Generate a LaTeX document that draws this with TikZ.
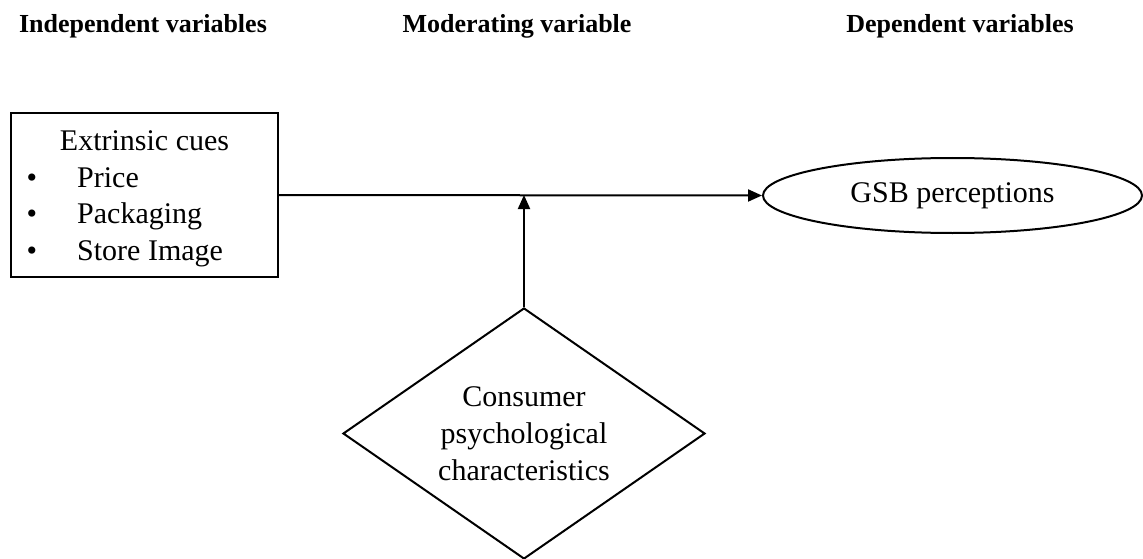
\documentclass[tikz,border=0pt]{standalone}
\usepackage{fontspec}
\setmainfont{Liberation Serif}
\usetikzlibrary{shapes.geometric,arrows.meta}

\begin{document}
\begin{tikzpicture}[x=1pt,y=-1pt,
  every node/.style={font=\fontsize{30}{37}\selectfont, inner sep=0pt},
  header/.style={font=\fontsize{26}{31}\selectfont\bfseries, anchor=base},
  line/.style={line width=2pt, black},
  arrow/.style={line, -{Triangle[length=14pt,width=12pt]}},
  cuebox/.style={draw, line width=2pt, minimum width=267pt, minimum height=164pt},
  outcome/.style={draw, ellipse, line width=2pt, minimum width=379pt, minimum height=75pt},
  moderator/.style={draw, diamond, line width=2pt, aspect=1.44,
                    minimum width=362pt, minimum height=251pt, align=center},
  itemtext/.style={anchor=base west},
  bullet/.style={anchor=base}]

  \useasboundingbox (0,0) rectangle (1143,559);

  % column headings
  \node[header] (hIndep) at (143,33) {Independent variables};
  \node[header] (hMod)   at (517,33) {Moderating variable};
  \node[header] (hDep)   at (960,33) {Dependent variables};

  % independent variables box
  \node[cuebox] (cues) at (144.5,195) {};
  \node[anchor=base] (cuesTitle) at (144.5,150) {Extrinsic cues};
  \node[bullet] (b1) at (32,187) {\textbullet};
  \node[bullet] (b2) at (32,223) {\textbullet};
  \node[bullet] (b3) at (32,260) {\textbullet};
  \node[itemtext] (price) at (77,187) {Price};
  \node[itemtext] (pack)  at (77,223) {Packaging};
  \node[itemtext] (store) at (77,260) {Store Image};

  % dependent variable
  \node[outcome] (gsb) at (952.5,195.5) {GSB perceptions};

  % moderating variable
  \node[moderator] (psych) at (524,433.5) {Consumer\\psychological\\characteristics};

  % connectors
  \coordinate (join) at (psych.north |- cues.east);
  \draw[arrow] (cues.east) -- (gsb.west);
  \draw[arrow] (psych.north) -- (join);
\end{tikzpicture}
\end{document}
